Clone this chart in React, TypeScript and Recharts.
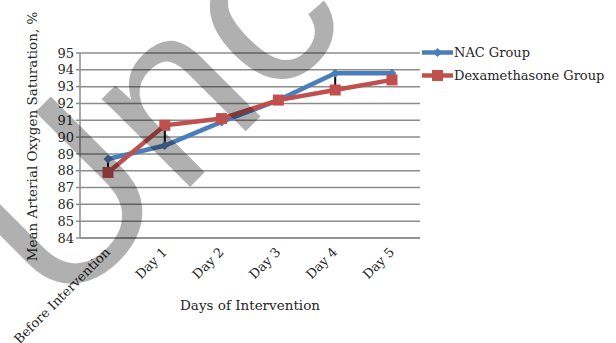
import { CartesianGrid, ErrorBar, Line, LineChart, XAxis, YAxis } from 'recharts'

const categories = ['Before Intervention', 'Day 1', 'Day 2', 'Day 3', 'Day 4', 'Day 5']
const nacValues = [88.7, 89.5, 90.9, 92.2, 93.8, 93.8]
const dexValues = [87.9, 90.7, 91.1, 92.2, 92.8, 93.4]
// [below, above] extent of the black bars, measured on the Dexamethasone points
const dexBars: [number, number][] = [[0.1, 0.8], [1.3, 0], [0.1, 0.1], [0, 0], [0, 1.0], [0.2, 0.2]]
const yTicks = [84, 85, 86, 87, 88, 89, 90, 91, 92, 93, 94, 95]

const seriesNames = ['NAC Group', 'Dexamethasone Group']

const rows = categories.map((name, i) => ({
  name,
  nac: nacValues[i],
  dex: dexValues[i],
  dexBar: dexBars[i],
}))

const FONT = '"DejaVu Serif", "Liberation Serif", serif'
const BLUE = '#4a7ebb'
const RED = '#c0504d'
const GRID = '#8c8c8c'
const TEXT = '#262626'

const Diamond = (props: any) => {
  const { cx, cy } = props
  if (cx == null || cy == null) return null
  const r = 4.5
  return <path d={`M${cx},${cy - r}L${cx + r},${cy}L${cx},${cy + r}L${cx - r},${cy}Z`} fill={BLUE} />
}

const Square = (props: any) => {
  const { cx, cy } = props
  if (cx == null || cy == null) return null
  const s = 11
  return <rect x={cx - s / 2} y={cy - s / 2} width={s} height={s} fill={RED} />
}

const XTick = (props: any) => {
  const { x, y, payload } = props
  const ax = x + 3
  const ay = y + 7
  return (
    <text x={ax} y={ay} transform={`rotate(-45 ${ax} ${ay})`} textAnchor="end"
      fontFamily={FONT} fontSize={13} fill={TEXT}>
      {payload.value}
    </text>
  )
}

const YTitle = (props: any) => {
  const { viewBox } = props
  const cx = 37
  const cy = viewBox.y + viewBox.height / 2 - 9
  return (
    <text x={cx} y={cy} transform={`rotate(-90 ${cx} ${cy})`} textAnchor="middle"
      fontFamily={FONT} fontSize={13.5} fill={TEXT}>
      Mean Arterial Oxygen Saturation, %
    </text>
  )
}

const LegendBox = () => (
  <div style={{ position: 'absolute', left: 421, top: 41, fontFamily: FONT, fontSize: 13, color: TEXT, lineHeight: '23px' }}>
    {seriesNames.map((n, i) => (
      <div key={n} style={{ display: 'flex', alignItems: 'center', whiteSpace: 'nowrap' }}>
        <svg width={33} height={23}>
          <line x1={1} y1={11.5} x2={32} y2={11.5} stroke={i === 0 ? BLUE : RED} strokeWidth={4.5} />
          {i === 0
            ? <path d="M16.5,7L21,11.5L16.5,16L12,11.5Z" fill={BLUE} />
            : <rect x={11} y={6} width={11} height={11} fill={RED} />}
        </svg>
        <span>{n}</span>
      </div>
    ))}
  </div>
)

// grey "Unc" stamp that lies across the source image
const Stamp = () => (
  <svg width={616} height={343} style={{ position: 'absolute', left: 0, top: 0, pointerEvents: 'none' }}>
    <text x={58} y={319} transform="rotate(-45 58 319)" fontFamily='"Liberation Sans", Arial, sans-serif'
      fontSize={236} fill="#000" fillOpacity={0.31}>Unc</text>
  </svg>
)

export default function App() {
  return (
    <div style={{ position: 'absolute', left: 0, top: 0, width: 616, height: 343, background: '#fff', overflow: 'hidden' }}>
      <LineChart width={616} height={343} data={rows}
        margin={{ top: 53, right: 196, left: 0, bottom: 0 }}>
        <CartesianGrid vertical={false} stroke={GRID} strokeWidth={1.5} />
        <XAxis dataKey="name" interval={0} padding={{ left: 28, right: 28 }}
          axisLine={{ stroke: GRID, strokeWidth: 1.5 }} tickLine={false} tick={<XTick />} height={105}
          label={{ value: 'Days of Intervention', position: 'insideBottom', offset: 33, fontFamily: FONT, fontSize: 13.5, fill: TEXT }} />
        <YAxis domain={[84, 95]} ticks={yTicks} interval={0} width={80} tickSize={4}
          axisLine={{ stroke: GRID, strokeWidth: 1.5 }} tickLine={{ stroke: GRID, strokeWidth: 1.5 }}
          tick={{ fontFamily: FONT, fontSize: 13, fill: TEXT }}
          label={<YTitle />} />
        <Line dataKey="nac" name={seriesNames[0]} stroke={BLUE} strokeWidth={4.5} dot={<Diamond />}
          activeDot={false} isAnimationActive={false} />
        <Line dataKey="dex" name={seriesNames[1]} stroke={RED} strokeWidth={4.5} dot={<Square />}
          activeDot={false} isAnimationActive={false}>
          <ErrorBar dataKey="dexBar" width={0} stroke="#000" strokeWidth={2} direction="y" />
        </Line>
      </LineChart>
      <LegendBox />
      <Stamp />
    </div>
  )
}
